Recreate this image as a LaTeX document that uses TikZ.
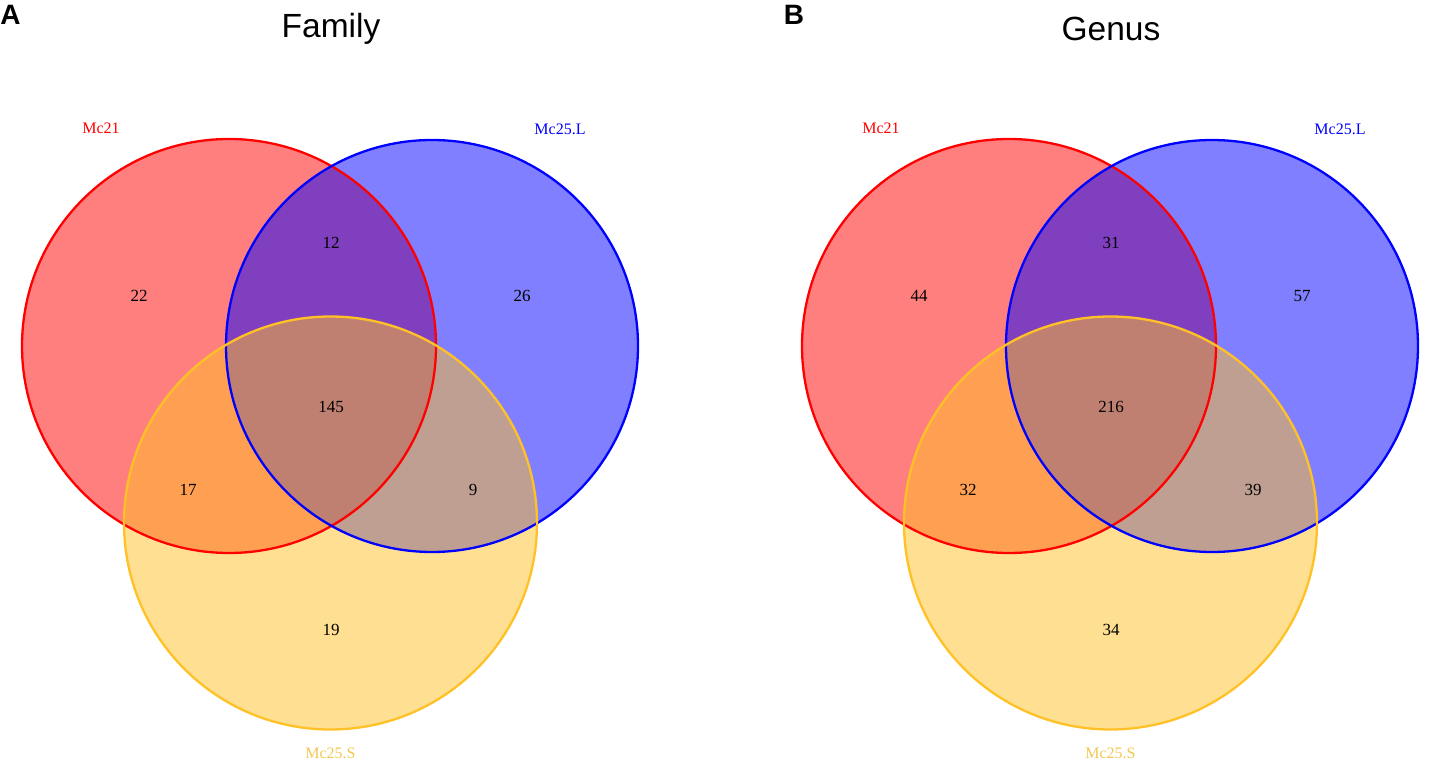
\documentclass[tikz,border=0pt]{standalone}
\usepackage{fontspec}
\setmainfont{Liberation Serif}
\newfontfamily\hel{Liberation Sans}
\definecolor{vred}{RGB}{255,0,0}
\definecolor{vblue}{RGB}{0,0,255}
\definecolor{vgold}{RGB}{255,193,37}
\definecolor{vgoldtxt}{RGB}{240,200,80}
\tikzset{
  setlab/.style={font=\fontsize{16}{16}\selectfont, inner sep=0pt},
  numlab/.style={font=\fontsize{17}{17}\selectfont, inner sep=0pt, text=black},
  ttl/.style={font=\hel\fontsize{33.5}{33.5}\selectfont, inner sep=0pt},
  panel/.style={font=\hel\bfseries\fontsize{28}{28}\selectfont, inner sep=0pt},
  ring/.style={line width=2.3pt}
}
\newcommand{\myvenn}[8]{%
  \begin{scope}[xshift=#1]
    \fill[vred, fill opacity=0.5] (229,346) circle (207);
    \fill[vblue, fill opacity=0.5] (432,346) circle (206);
    \fill[vgold, fill opacity=0.5] (330.5,523) circle (206.5);
    \draw[ring, vred] (229,346) circle (207);
    \draw[ring, vblue] (432,346) circle (206);
    \draw[ring, vgold] (330.5,523) circle (206.5);
    \node[setlab, text=vred] at (101,128) {Mc21};
    \node[setlab, text=vblue] at (560,129) {Mc25.L};
    \node[setlab, text=vgoldtxt] at (330.5,753) {Mc25.S};
    \node[numlab] at (139,296) {#2};
    \node[numlab] at (331,243) {#3};
    \node[numlab] at (522,296) {#4};
    \node[numlab] at (331,407) {#5};
    \node[numlab] at (188,490) {#6};
    \node[numlab] at (473,490) {#7};
    \node[numlab] at (331,630) {#8};
  \end{scope}}
\begin{document}
\begin{tikzpicture}[x=1pt,y=-1pt]
\useasboundingbox (0,0) rectangle (1430,767);
\node[panel] (pa) at (10.5,15) {A};
\node[panel] (pb) at (794,15) {B};
\node[ttl] (t1) at (331,29) {Family};
\node[ttl] (t2) at (1111,29) {Genus};
\myvenn{0pt}{22}{12}{26}{145}{17}{9}{19}
\myvenn{780pt}{44}{31}{57}{216}{32}{39}{34}
\end{tikzpicture}
\end{document}
